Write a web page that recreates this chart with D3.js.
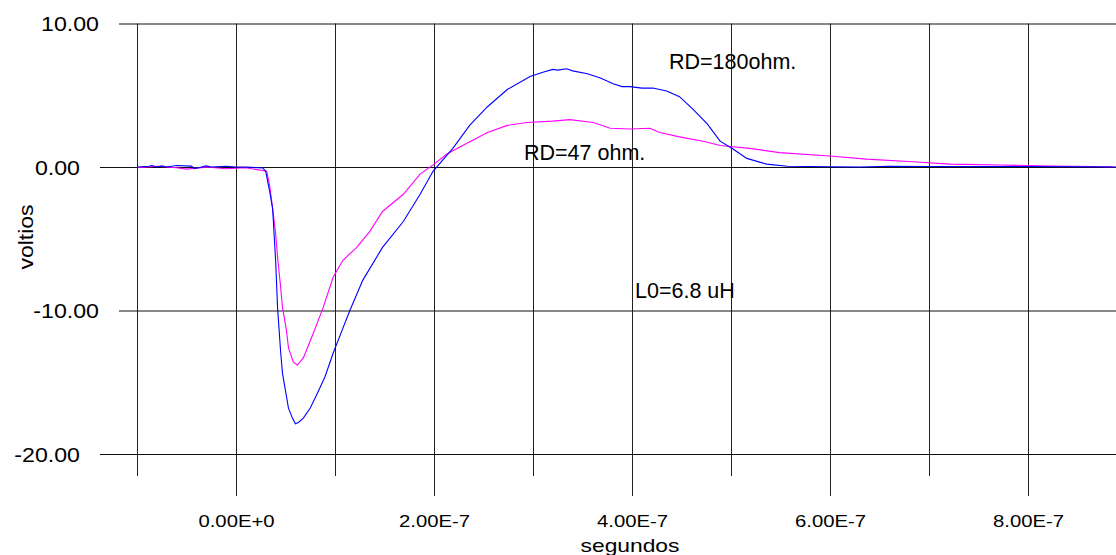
<!DOCTYPE html>
<html>
<head>
<meta charset="utf-8">
<script src="https://cdn.jsdelivr.net/npm/d3@7"></script>
<style>
  body { margin: 0; background: #fff; }
  svg { display: block; font-family: "Liberation Sans", Arial, sans-serif; }
</style>
</head>
<body>
<div class="chartContainer"></div>
<script>
// time in units of 1E-7 s, voltage in volts
var xTickValues = [-1, 0, 1, 2, 3, 4, 5, 6, 7, 8, 9];
var xTickLabels = ["", "0.00E+0", "", "2.00E-7", "", "4.00E-7", "", "6.00E-7", "", "8.00E-7", ""];
var yTickValues = [10, 0, -10, -20];
var yTickLabels = ["10.00", "0.00", "-10.00", "-20.00"];

// RD=180 ohm (blue)
var timeBlue = [-1, -0.88, -0.85, -0.8, -0.75, -0.7, -0.6, -0.45, -0.42, -0.3, -0.25, -0.1, 0, 0.1, 0.27,
    0.3, 0.34, 0.37, 0.4, 0.42, 0.45, 0.47, 0.53, 0.57, 0.6, 0.63, 0.68, 0.75, 0.82, 0.9, 0.98,
    1.07, 1.15, 1.28, 1.48, 1.69, 1.86, 1.99, 2.19, 2.36, 2.54, 2.74, 2.97, 3.1, 3.2, 3.25, 3.34, 3.4, 3.55,
    3.68, 3.81, 3.9, 3.98, 4.1, 4.21, 4.35, 4.48, 4.62, 4.76, 4.89, 5.02, 5.16, 5.36, 5.57, 6.0, 6.3,
    6.6, 7.0, 7.5, 8.0, 8.5, 8.9];
var voltBlue = [0, 0.05, 0.1, 0, 0.08, 0, 0.1, 0.06, -0.12, 0.08, 0, 0.05, 0, 0, -0.07,
    -0.3, -1.7, -2.9, -6.5, -9.8, -12.8, -14.4, -16.8, -17.5, -17.9, -17.8, -17.5, -16.8, -15.8, -14.6, -13.0,
    -11.4, -10.0, -7.9, -5.6, -3.8, -1.9, -0.3, 1.3, 2.9, 4.2, 5.4, 6.3, 6.6, 6.8, 6.75, 6.85, 6.7, 6.5,
    6.2, 5.8, 5.6, 5.6, 5.5, 5.5, 5.3, 4.9, 4.0, 3.0, 1.8, 1.25, 0.6, 0.2, 0.05, 0.02, 0,
    0.05, 0.03, 0.04, 0.03, 0.02, 0];

// RD=47 ohm (magenta)
var timeMag = [-1, -0.8, -0.6, -0.5, -0.35, -0.3, -0.1, 0.1, 0.31,
    0.34, 0.37, 0.4, 0.42, 0.45, 0.47, 0.51, 0.53, 0.58, 0.62, 0.68, 0.78, 0.88, 0.98,
    1.08, 1.22, 1.35, 1.48, 1.69, 1.86, 1.99, 2.13, 2.29, 2.54, 2.74, 2.94, 3.2, 3.37,
    3.61, 3.78, 3.98, 4.18, 4.28, 4.48, 4.72, 4.89, 5.19, 5.49, 6.03, 6.37, 6.88, 7.21,
    7.72, 8.22, 8.86];
var voltMag = [-0.05, 0.05, -0.05, -0.15, -0.05, 0, -0.12, -0.05, -0.3,
    -1.3, -2.9, -4.6, -6.3, -8.3, -9.8, -11.4, -12.6, -13.6, -13.8, -13.3, -11.6, -9.8, -7.7,
    -6.5, -5.6, -4.5, -3.1, -1.9, -0.5, 0.15, 0.9, 1.5, 2.4, 2.9, 3.1, 3.2, 3.3,
    3.1, 2.7, 2.65, 2.7, 2.4, 2.1, 1.8, 1.5, 1.3, 1.0, 0.75, 0.55, 0.35, 0.2,
    0.14, 0.07, 0.02];

var w = 1116,
    h = 555;

var canvas = d3.select(".chartContainer")
    .append("svg")
    .attr("width", w)
    .attr("height", h);

var x = d3.scaleLinear().domain([-1, 9]).range([137, 1127]);
var y = d3.scaleLinear().domain([-20, 10]).range([454, 23.5]);

var plotTop = y(10);

// stretch a text to a given width (the original font is wider)
function stretch(sel, factor) {
    sel.each(function () {
        var len = this.getComputedTextLength();
        if (len > 0) {
            d3.select(this)
                .attr("textLength", len * factor)
                .attr("lengthAdjust", "spacingAndGlyphs");
        }
    });
}

// vertical grid + ticks below the plot
var xAxis = d3.axisBottom(x)
    .tickValues(xTickValues)
    .tickSize(0)
    .tickFormat(function (d, i) { return xTickLabels[i]; });

var gx = canvas.append("g")
    .attr("transform", "translate(0," + plotTop + ")")
    .call(xAxis);
gx.select(".domain").remove();
gx.selectAll(".tick line")
    .attr("y1", 0)
    .attr("y2", function (d) { return (d % 2 === 0 ? 496 : 476) - plotTop; })
    .attr("stroke", "#222")
    .attr("stroke-width", 1);
gx.selectAll(".tick text")
    .attr("y", 527 - plotTop)
    .attr("dy", 0)
    .attr("fill", "#000")
    .style("font-size", "16.5px")
    .attr("font-family", null);
stretch(gx.selectAll(".tick text"), 1.23);

// horizontal grid + ticks left of the plot
var yAxis = d3.axisLeft(y)
    .tickValues(yTickValues)
    .tickSize(0)
    .tickFormat(function (d, i) { return yTickLabels[i]; });

var gy = canvas.append("g")
    .attr("transform", "translate(" + w + ",0)")
    .call(yAxis);
gy.select(".domain").remove();
gy.selectAll(".tick line")
    .attr("x1", 0)
    .attr("x2", function (d) { return (d % 20 === 0 ? 100 : 119) - w; })
    .attr("stroke", "#111")
    .attr("stroke-width", 1);
gy.selectAll(".tick text")
    .attr("x", function (d) { return (d % 20 === 0 ? 80 : 99) - w; })
    .attr("dy", "0.36em")
    .attr("fill", "#000")
    .style("font-size", "20.5px")
    .attr("font-family", null);
stretch(gy.selectAll(".tick text"), 1.13);

var line = d3.line()
    .x(function (d) { return x(d[0]); })
    .y(function (d) { return y(d[1]); });

canvas.append("path")
    .datum(d3.zip(timeMag, voltMag))
    .attr("d", line)
    .attr("fill", "none")
    .attr("stroke", "#ff00ff")
    .attr("stroke-width", 1.1);

canvas.append("path")
    .datum(d3.zip(timeBlue, voltBlue))
    .attr("d", line)
    .attr("fill", "none")
    .attr("stroke", "#0000ff")
    .attr("stroke-width", 1.1);

// annotations
canvas.append("text")
    .attr("x", 669)
    .attr("y", 69)
    .style("font-size", "21.5px")
    .text("RD=180ohm.");

canvas.append("text")
    .attr("x", 524)
    .attr("y", 160)
    .style("font-size", "21.5px")
    .text("RD=47 ohm.");

canvas.append("text")
    .attr("x", 635)
    .attr("y", 298)
    .style("font-size", "21.5px")
    .text("L0=6.8 uH");

// axis titles
var xTitle = canvas.append("text")
    .attr("x", 630)
    .attr("y", 552)
    .attr("text-anchor", "middle")
    .style("font-size", "19px")
    .text("segundos");
stretch(xTitle, 1.2);

var yTitle = canvas.append("text")
    .attr("transform", "translate(33,237) rotate(-90)")
    .attr("text-anchor", "middle")
    .style("font-size", "20px")
    .text("voltios");
stretch(yTitle, 1.15);
</script>
</body>
</html>
